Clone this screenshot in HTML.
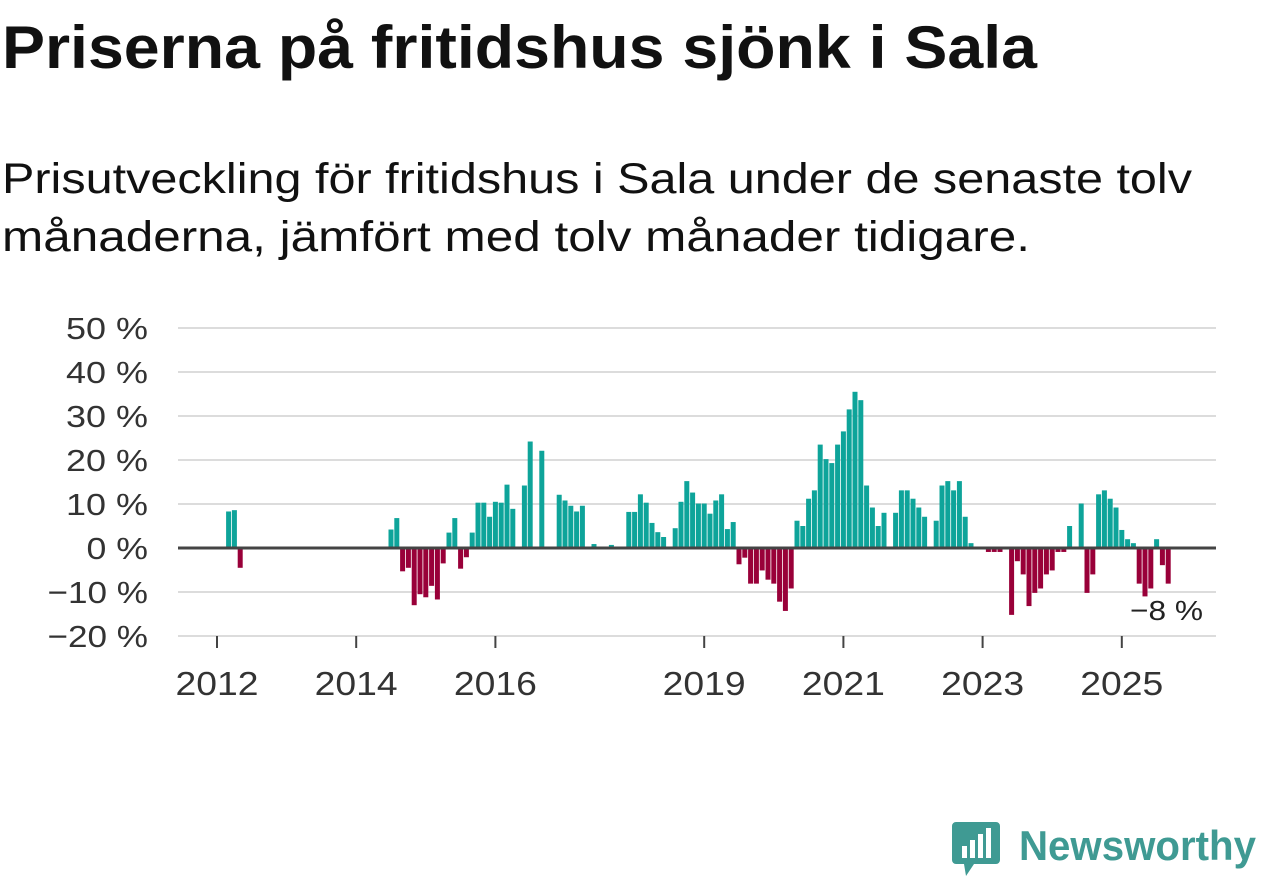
<!DOCTYPE html>
<html><head><meta charset="utf-8">
<style>
html,body{margin:0;padding:0;background:#fff;width:1262px;height:879px;overflow:hidden;font-family:"Liberation Sans",sans-serif}
svg{position:absolute;left:0;top:0}
</style></head>
<body>
<svg width="1262" height="879">
<text x="2" y="68" font-size="60" font-weight="bold" fill="#111" textLength="1035" lengthAdjust="spacingAndGlyphs">Priserna på fritidshus sjönk i Sala</text>
<text x="2" y="193" font-size="43" fill="#111" textLength="1190" lengthAdjust="spacingAndGlyphs">Prisutveckling för fritidshus i Sala under de senaste tolv</text>
<text x="2" y="251" font-size="43" fill="#111" textLength="1028" lengthAdjust="spacingAndGlyphs">månaderna, jämfört med tolv månader tidigare.</text>
</svg>
<svg id="chart" width="1262" height="879"></svg>
<script>
const yTicks=[50,40,30,20,10,0,-10,-20];
const yTickLabels=["50 %","40 %","30 %","20 %","10 %","0 %","−10 %","−20 %"];
const xTickMonths=[0,24,48,84,108,132,156];
const xTickLabels=["2012","2014","2016","2019","2021","2023","2025"];
const values=[null,null,8.3,8.6,-4.5,
null,null,null,null,null,null,null,null,null,null,null,null,null,null,null,null,null,null,null,null,null,null,null,null,null,
4.2,6.8,-5.3,-4.5,-13,-10.5,-11.2,-8.6,-11.7,-3.5,
3.5,6.8,-4.7,-2.1,3.5,10.3,10.3,7.1,10.5,10.3,
14.4,8.9,null,14.2,24.2,null,22.1,null,null,12.1,
10.8,9.6,8.3,9.6,null,0.9,null,null,0.7,null,
null,8.2,8.2,12.2,10.3,5.7,3.6,2.5,null,4.5,
10.5,15.2,12.6,10.1,10.1,7.8,10.8,12.2,4.3,5.9,
-3.7,-2.2,-8.1,-8.1,-5.1,-7.2,-8.1,-12.2,-14.3,-9.2,
6.2,5.0,11.2,13.1,23.5,20.2,19.3,23.5,26.5,31.5,
35.5,33.6,14.2,9.2,5.0,8.0,null,8.0,13.1,13.1,
11.2,9.2,7.1,null,6.2,14.2,15.2,13.1,15.2,7.1,
1.1,null,null,-0.9,-0.9,-0.9,null,-15.2,-3,-6,
-13.2,-10.2,-9.2,-6,-5.1,-0.9,-0.9,5,null,10.1,
-10.2,-6,12.2,13.1,11.2,9.2,4.1,2.0,1.1,-8.1,
-11,-9.2,2.0,-3.9,-8.1];
const lastLabel="−8 %";

const NS="http://www.w3.org/2000/svg";
const svg=document.getElementById('chart');
const X0=217, MW=69.6/12;
const xScale=m=>X0+m*MW;
const yScale=v=>548-v*4.4;
function mk(t,a){const e=document.createElementNS(NS,t);for(const k in a)e.setAttribute(k,a[k]);svg.appendChild(e);return e;}
yTicks.forEach((v,i)=>{
  if(v!==0){const g=mk('line',{x1:178,x2:1216,y1:yScale(v),y2:yScale(v),stroke:'#dcdcdc','stroke-width':2});
  
  }
  const lab=yTickLabels[i];
  const t=mk('text',{x:148,y:yScale(v)+11,'text-anchor':'end','font-size':31,fill:'#333',textLength:lab.length*20.5-(lab.length>4?2:0),lengthAdjust:'spacingAndGlyphs'});
  t.textContent=lab;
  
  
});
values.forEach((v,m)=>{
  if(v===null)return;
  const y=v>=0?yScale(v):yScale(0);
  const r=mk('rect',{x:xScale(m)-2.5,y:y,width:5,height:Math.abs(yScale(v)-yScale(0)),fill:v>=0?'#0ea49a':'#990039'});
  
  
});
const z=mk('line',{x1:178,x2:1216,y1:yScale(0),y2:yScale(0),stroke:'#444','stroke-width':3});


xTickMonths.forEach((m,i)=>{
  const l=mk('line',{x1:xScale(m),x2:xScale(m),y1:636,y2:648,stroke:'#444','stroke-width':2});
  
  
  const t=mk('text',{x:xScale(m),y:695,'text-anchor':'middle','font-size':33,fill:'#333',textLength:83,lengthAdjust:'spacingAndGlyphs'});
  t.textContent=xTickLabels[i];
  
  
});
const lt=mk('text',{x:1130,y:620,'font-size':28,fill:'#222',stroke:'#fff','stroke-width':6,'paint-order':'stroke',textLength:73,lengthAdjust:'spacingAndGlyphs'});
lt.textContent=lastLabel;


</script>
<svg width="1262" height="879" style="pointer-events:none">
  <path d="M956 822 h40 a4 4 0 0 1 4 4 v34 a4 4 0 0 1 -4 4 h-22 l-8 12 l-2 -12 h-8 a4 4 0 0 1 -4 -4 v-34 a4 4 0 0 1 4 -4z" fill="#3f9a93"/>
  <rect x="962" y="846" width="5" height="12" fill="#fff"/>
  <rect x="970" y="840" width="5" height="18" fill="#fff"/>
  <rect x="978" y="834" width="5" height="24" fill="#fff"/>
  <rect x="986" y="828" width="5" height="30" fill="#fff"/>
  <text x="1019" y="860" font-size="42" font-weight="bold" fill="#3f9a93" textLength="237" lengthAdjust="spacingAndGlyphs" font-family="Liberation Sans, sans-serif">Newsworthy</text>
</svg>
</body></html>
